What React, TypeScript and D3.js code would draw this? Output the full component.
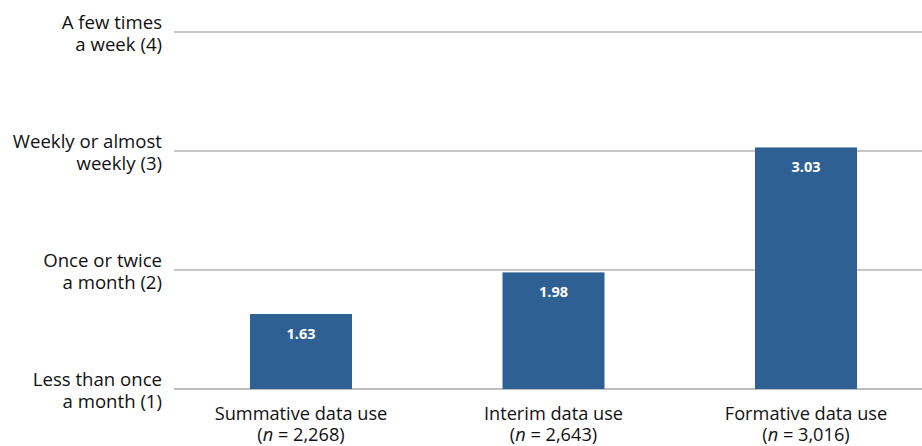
import React from "react";
import * as d3 from "d3";

const categories = ["Summative data use", "Interim data use", "Formative data use"];
const sampleSizes = ["2,268", "2,643", "3,016"];
const means = [1.63, 1.98, 3.03];
const tickValues = [1, 2, 3, 4];
const tickLabels = [
  ["Less than once", "a month (1)"],
  ["Once or twice", "a month (2)"],
  ["Weekly or almost", "weekly (3)"],
  ["A few times", "a week (4)"],
];

const W = 922;
const H = 446;
const FONT = "'Open Sans', 'Noto Sans', sans-serif";

export default function App() {
  const y = d3.scaleLinear().domain([1, 4]).range([389, 32]);
  const x = d3
    .scaleBand<string>()
    .domain(categories)
    .range([174.75, 932.25])
    .paddingInner(0.596)
    .paddingOuter(0.298);

  return (
    <svg
      width={W}
      height={H}
      style={{ position: "absolute", left: 0, top: 0, fontFamily: FONT }}
    >
      <rect width={W} height={H} fill="#fff" />
      {tickValues.map((v, i) => (
        <g key={v}>
          <line
            x1={174}
            x2={W}
            y1={y(v)}
            y2={y(v)}
            stroke={v === 1 ? "#a8a8a8" : "#b4b4b4"}
            strokeWidth={1.3}
          />
          <text
            x={162}
            y={y(v) - 3}
            textAnchor="end"
            fontSize={18.6}
            fill="#111"
          >
            <tspan x={162}>{tickLabels[i][0]}</tspan>
            <tspan x={162} dy={21.5}>
              {tickLabels[i][1]}
            </tspan>
          </text>
        </g>
      ))}
      {categories.map((c, i) => {
        const bx = x(c)!;
        const bw = x.bandwidth();
        const cx = bx + bw / 2;
        return (
          <g key={c}>
            <rect
              x={bx}
              y={y(means[i])}
              width={bw}
              height={y(1) - y(means[i])}
              fill="#2e6094"
            />
            <text
              x={cx}
              y={y(means[i]) + 25}
              textAnchor="middle"
              fontSize={14.5}
              fontWeight={700}
              fill="#fff"
            >
              {means[i].toFixed(2)}
            </text>
            <text x={cx} y={420} textAnchor="middle" fontSize={18.2} fill="#111">
              {c}
            </text>
            <text x={cx} y={441} textAnchor="middle" fontSize={18.2} fill="#111">
              (<tspan fontStyle="italic">n</tspan> = {sampleSizes[i]})
            </text>
          </g>
        );
      })}
    </svg>
  );
}
